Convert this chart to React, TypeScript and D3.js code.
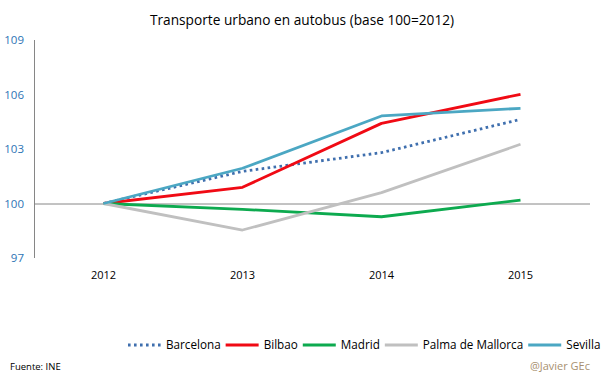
import React, { useEffect, useRef } from "react";
import * as d3 from "d3";

const years = ["2012", "2013", "2014", "2015"];
const barcelona = [100, 101.77, 102.8, 104.63];
const bilbao = [100, 100.89, 104.41, 106.01];
const madrid = [100, 99.68, 99.27, 100.19];
const palma = [100, 98.54, 100.6, 103.26];
const sevilla = [100, 101.94, 104.82, 105.24];
const seriesNames = ["Barcelona", "Bilbao", "Madrid", "Palma de Mallorca", "Sevilla"];
const yTicks = [97, 100, 103, 106, 109];

const W = 605;
const H = 379;
const FONT = "'Open Sans', 'Noto Sans', sans-serif";

export default function App() {
  const ref = useRef<SVGSVGElement>(null);
  useEffect(() => {
    const svg = d3.select(ref.current);
    svg.selectAll("*").remove();

    const x = d3.scaleBand().domain(years).range([34, 590]);
    const y = d3.scaleLinear().domain([97, 109]).range([258, 40]);
    const cx = (d: string) => (x(d) as number) + x.bandwidth() / 2;

    const series = [
      { name: seriesNames[0], values: barcelona, color: "#3F6FAE", dash: "2.6,3.4", width: 2.8, cap: "butt" },
      { name: seriesNames[1], values: bilbao, color: "#F00A14", dash: null, width: 2.8, cap: "butt" },
      { name: seriesNames[2], values: madrid, color: "#0DAA4F", dash: null, width: 2.8, cap: "butt" },
      { name: seriesNames[3], values: palma, color: "#C0C0C0", dash: null, width: 2.8, cap: "butt" },
      { name: seriesNames[4], values: sevilla, color: "#4BA7C3", dash: null, width: 2.8, cap: "butt" },
    ];

    svg.append("text")
      .attr("x", 302).attr("y", 25)
      .attr("text-anchor", "middle")
      .attr("font-family", FONT).attr("font-size", 13.7)
      .attr("fill", "#000")
      .text("Transporte urbano en autobus (base 100=2012)");

    svg.append("line")
      .attr("x1", 34.5).attr("x2", 34.5)
      .attr("y1", y(109)).attr("y2", y(97))
      .attr("stroke", "#868686").attr("stroke-width", 1);

    svg.append("line")
      .attr("x1", 34).attr("x2", 590)
      .attr("y1", y(100) + 0.5).attr("y2", y(100) + 0.5)
      .attr("stroke", "#868686").attr("stroke-width", 1);

    svg.selectAll(".ytick").data(yTicks).enter().append("text")
      .attr("x", 24).attr("y", (d) => y(d) + 4)
      .attr("text-anchor", "end")
      .attr("font-family", FONT).attr("font-size", 11.5)
      .attr("fill", "#2E74B5")
      .text((d) => String(d));

    svg.selectAll(".xtick").data(years).enter().append("text")
      .attr("x", (d) => cx(d)).attr("y", 279)
      .attr("text-anchor", "middle")
      .attr("font-family", FONT).attr("font-size", 11)
      .attr("fill", "#000")
      .text((d) => d);

    const line = d3.line<number>()
      .x((_, i) => cx(years[i]))
      .y((d) => y(d));

    series.forEach((s) => {
      const p = svg.append("path")
        .attr("d", line(s.values) as string)
        .attr("fill", "none")
        .attr("stroke", s.color)
        .attr("stroke-width", s.width)
        .attr("stroke-linejoin", "round")
        .attr("stroke-linecap", s.cap);
      if (s.dash) p.attr("stroke-dasharray", s.dash);
    });

    let lx = 128;
    const ly = 345;
    series.forEach((s) => {
      const l = svg.append("line")
        .attr("x1", lx).attr("x2", lx + 33)
        .attr("y1", ly).attr("y2", ly)
        .attr("stroke", s.color).attr("stroke-width", s.width)
        .attr("stroke-linecap", s.cap);
      if (s.dash) l.attr("stroke-dasharray", s.dash);
      const t = svg.append("text")
        .attr("x", lx + 38).attr("y", ly + 4)
        .attr("font-family", FONT).attr("font-size", 11.7)
        .attr("fill", "#000")
        .text(s.name);
      const tw = (t.node() as SVGTextElement).getComputedTextLength();
      lx = lx + 38 + tw + 5;
    });

    svg.append("text")
      .attr("x", 10).attr("y", 370)
      .attr("font-family", FONT).attr("font-size", 9.5)
      .attr("fill", "#000")
      .text("Fuente: INE");

    svg.append("text")
      .attr("x", 590).attr("y", 370)
      .attr("text-anchor", "end")
      .attr("font-family", FONT).attr("font-size", 11)
      .attr("fill", "#A89070")
      .text("@Javier GEc");
  }, []);

  return (
    <div style={{ position: "absolute", left: 0, top: 0 }}>
      <svg ref={ref} width={W} height={H} style={{ display: "block", background: "#fff" }} />
    </div>
  );
}
